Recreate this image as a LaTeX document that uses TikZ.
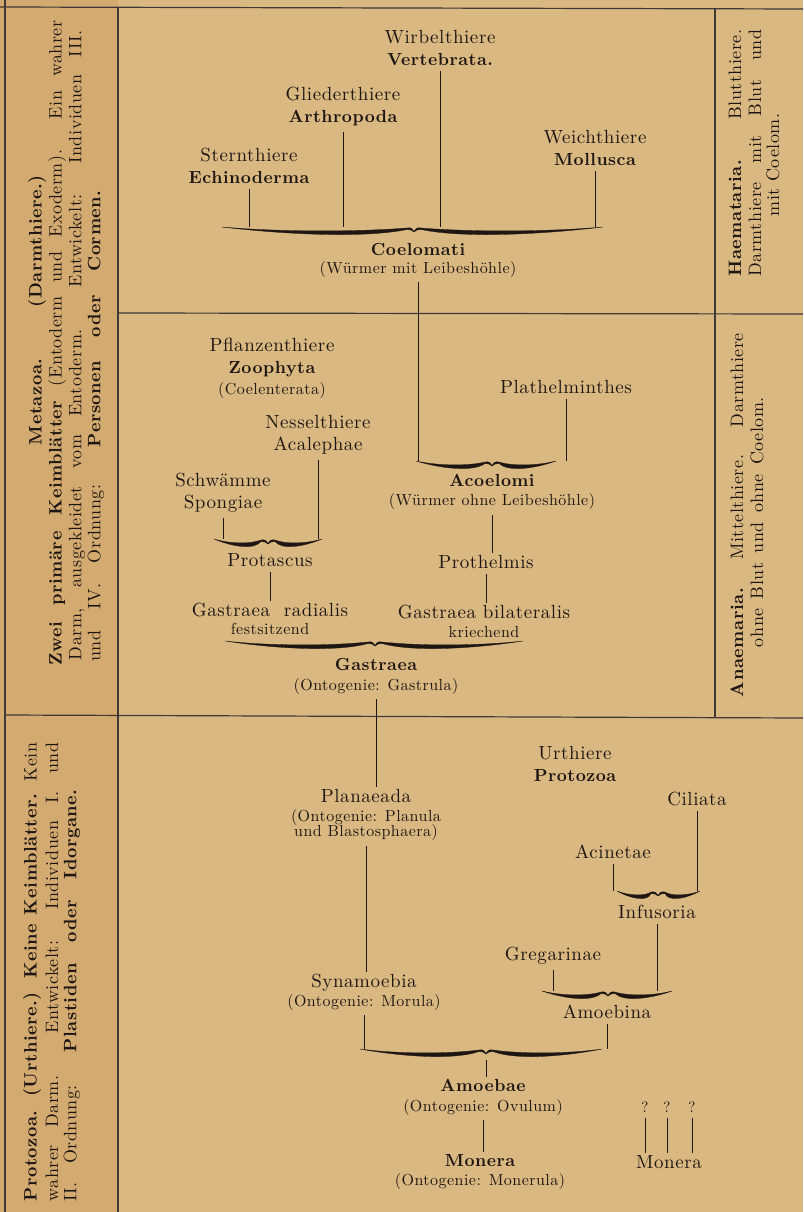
\documentclass[tikz,border=0pt]{standalone}
\usepackage{fontspec}
\setmainfont{lmroman10-regular.otf}[BoldFont=lmroman10-bold.otf, LetterSpace=3]

\definecolor{paper}{RGB}{217,184,130}
\definecolor{paperdark}{RGB}{211,170,112}
\definecolor{ink}{RGB}{30,22,18}

% bold Clarendon-like names and small sub-lines
\newcommand{\bn}[1]{{\fontsize{17.5}{22}\selectfont\bfseries #1}}
\newcommand{\sm}[1]{{\fontsize{16}{17}\selectfont #1}}

% old-style brace: name, left x, tip x, right x, level y
\newcommand{\oldbrace}[5]{%
  \coordinate (#1-l) at (#2,#5);
  \coordinate (#1-t) at (#3,{#5+5});
  \coordinate (#1-r) at (#4,#5);
  \filldraw[ink, line width=0.3pt] (#2,#5)
    .. controls ({#2+0.3*(#3-#2)},{#5+5}) and ({#2+0.7*(#3-#2)},{#5+5}) .. ({#3-7},{#5+1})
    .. controls ({#3-3},{#5}) and ({#3-1},{#5+2}) .. (#3,{#5+5})
    .. controls ({#3+1},{#5+2}) and ({#3+3},{#5}) .. ({#3+7},{#5+1})
    .. controls ({#4-0.7*(#4-#3)},{#5+5}) and ({#4-0.3*(#4-#3)},{#5+5}) .. (#4,#5)
    .. controls ({#4-0.35*(#4-#3)},{#5+8}) and ({#4-0.75*(#4-#3)},{#5+11}) .. ({#3+7},{#5+2.5})
    .. controls ({#3+4},{#5+2.5}) and ({#3+2},{#5+3}) .. (#3,{#5+5})
    .. controls ({#3-2},{#5+3}) and ({#3-4},{#5+2.5}) .. ({#3-7},{#5+2.5})
    .. controls ({#2+0.75*(#3-#2)},{#5+11}) and ({#2+0.35*(#3-#2)},{#5+8}) .. (#2,#5) -- cycle;
}

\begin{document}
\begin{tikzpicture}[
  x=1pt, y=-1pt,
  lbl/.style={align=center, text=ink, inner sep=2pt, font=\fontsize{19}{22}\selectfont},
  side/.style={rotate=90, text=ink, inner sep=0pt, font=\fontsize{18}{20}\selectfont},
  conn/.style={draw=ink, line width=0.8pt, shorten <=3pt},
  frame/.style={draw=ink!85, line width=1.2pt}
]
  \useasboundingbox (0,0) rectangle (803,1212);

  % --- Papier und Rahmen ---
  \fill[paper] (0,0) rectangle (803,1212);
  \fill[paperdark] (0,0) rectangle (118,1212);
  \draw[frame] (0,7) -- (803,9);
  \draw[frame] (5,0) -- (5,1212);
  \draw[frame] (118,7) -- (118,1212);
  \draw[frame] (715,8) -- (715,717);
  \draw[frame] (118,313) -- (803,314);
  \draw[frame] (5,715) -- (803,718);

  % --- Seitentexte links ---
  \node[side] (meta1) at (37,310) {\makebox[270pt][s]{\bfseries Metazoa. (Darmthiere.)}};
  \node[side] (meta2) at (57,343) {\makebox[645pt][s]{\textbf{Zwei primäre Keimblätter} (Entoderm und Exoderm). Ein wahrer}};
  \node[side] (meta3) at (77,345) {\makebox[630pt][s]{Darm, ausgekleidet vom Entoderm. Entwickelt: Individuen III.}};
  \node[side, anchor=west] (meta4) at (96,662) {\makebox[472pt][s]{und IV. Ordnung: \textbf{Personen oder Cormen.}}};

  \node[side] (proto1) at (32,972) {\makebox[459pt][s]{\textbf{Protozoa. (Urthiere.) Keine Keimblätter.} Kein}};
  \node[side] (proto2) at (52,972) {\makebox[459pt][s]{wahrer Darm. Entwickelt: Individuen I. und}};
  \node[side, anchor=west] (proto3) at (72,1202) {\makebox[413pt][s]{II. Ordnung: \textbf{Plastiden oder Idorgane.}}};

  % --- Seitentexte rechts ---
  \node[side] (haem1) at (735,153) {\makebox[247pt][s]{\textbf{Haemataria.} Blutthiere.}};
  \node[side] (haem2) at (755,153) {\makebox[247pt][s]{Darmthiere mit Blut und}};
  \node[side] (haem3) at (773,165) {mit Coelom.};
  \node[side] (anaem1) at (737,515) {\makebox[364pt][s]{\textbf{Anaemaria.} Mittelthiere. Darmthiere}};
  \node[side] (anaem2) at (757,522) {\makebox[250pt][s]{ohne Blut und ohne Coelom.}};

  % --- Coelomati ---
  \node[lbl] (wirbel) at (440,48) {Wirbelthiere\\\bn{Vertebrata.}};
  \node[lbl] (arthro) at (343,107) {Gliederthiere\\\bn{Arthropoda}};
  \node[lbl] (echino) at (249,166) {Sternthiere\\\bn{Echinoderma}};
  \node[lbl] (mollusca) at (595,148) {Weichthiere\\\bn{Mollusca}};
  \node[lbl] (coelomati) at (418,260) {\bn{Coelomati}\\[-4pt]\sm{(Würmer mit Leibeshöhle)}};

  \oldbrace{br1}{222}{414}{603}{227}
  \draw[conn] (echino.south) -- (echino.south |- br1-l);
  \draw[conn] (arthro.south) -- (arthro.south |- br1-l);
  \draw[conn] (wirbel.south) -- (wirbel.south |- br1-l);
  \draw[conn] (mollusca.south) -- (mollusca.south |- br1-l);

  % --- Acoelomi und Zoophyta ---
  \node[lbl] (zoophyta) at (272,368) {Pflanzenthiere\\\bn{Zoophyta}\\[-1pt]\sm{(Coelenterata)}};
  \node[lbl] (nessel) at (318,435) {Nesselthiere\\Acalephae};
  \node[lbl] (schwamm) at (223,493) {Schwämme\\Spongiae};
  \node[lbl] (plath) at (566,387) {Plathelminthes};
  \node[lbl] (acoelomi) at (492,492) {\bn{Acoelomi}\\[-3pt]\sm{(Würmer ohne Leibeshöhle)}};
  \node[lbl] (protascus) at (270,560) {Protascus};
  \node[lbl] (prothelmis) at (486,562) {Prothelmis};
  \node[lbl] (radialis) at (270,619) {Gastraea\ \ radialis\\[-4pt]\sm{festsitzend}};
  \node[lbl] (bilateralis) at (484,621) {Gastraea bilateralis\\[-3pt]\sm{kriechend}};
  \node[lbl] (gastraea) at (376,676) {\bn{Gastraea}\\[-2pt]\sm{(Ontogenie: Gastrula)}};

  \oldbrace{br2}{416}{492}{556}{461}
  \oldbrace{br3}{214}{268}{322}{539}
  \oldbrace{br4}{225}{375}{523}{641}
  \draw[conn] (coelomati.south) -- (coelomati.south |- br2-l);
  \draw[conn] (plath.south) -- (plath.south |- br2-l);
  \draw[conn] (schwamm.south) -- (schwamm.south |- br3-l);
  \draw[conn] (nessel.south) -- (nessel.south |- br3-l);
  \draw[conn] (protascus.south) -- (protascus.south |- radialis.north);
  \draw[conn] (acoelomi.south) -- (acoelomi.south |- prothelmis.north);
  \draw[conn] (prothelmis.south) -- (prothelmis.south |- bilateralis.north);

  % --- Protozoa ---
  \node[lbl] (urthiere) at (575,764) {Urthiere\\\bn{Protozoa}};
  \node[lbl] (planaeada) at (366,815) {Planaeada\\[-3pt]\sm{(Ontogenie: Planula}\\[-7pt]\sm{und Blastosphaera)}};
  \node[lbl] (synamoebia) at (364,992) {Synamoebia\\[-3pt]\sm{(Ontogenie: Morula)}};
  \node[lbl] (ciliata) at (697,799) {Ciliata};
  \node[lbl] (acinetae) at (613,852) {Acinetae};
  \node[lbl] (infusoria) at (657,912) {Infusoria};
  \node[lbl] (gregarinae) at (553,956) {Gregarinae};
  \node[lbl] (amoebina) at (607,1012) {Amoebina};
  \node[lbl] (amoebae) at (483,1097) {\bn{Amoebae}\\[-2pt]\sm{(Ontogenie: Ovulum)}};
  \node[lbl] (monera) at (480,1172) {\bn{Monera}\\[-3pt]\sm{(Ontogenie: Monerula)}};
  \node[lbl, font=\fontsize{15}{17}\selectfont] (q1) at (645,1107) {?};
  \node[lbl, font=\fontsize{15}{17}\selectfont] (q2) at (667,1107) {?};
  \node[lbl, font=\fontsize{15}{17}\selectfont] (q3) at (692,1107) {?};
  \node[lbl] (monera2) at (669,1162) {Monera};

  \oldbrace{br5}{617}{658}{700}{891}
  \oldbrace{br6}{542}{608}{672}{991}
  \oldbrace{br7}{360}{486}{602}{1049}
  \draw[conn] (gastraea.south) -- (gastraea.south |- planaeada.north);
  \draw[conn] (planaeada.south) -- (planaeada.south |- synamoebia.north);
  \draw[conn] (synamoebia.south) -- (synamoebia.south |- br7-l);
  \draw[conn] (acinetae.south) -- (acinetae.south |- br5-l);
  \draw[conn] (ciliata.south) -- (ciliata.south |- br5-l);
  \draw[conn] (infusoria.south) -- (infusoria.south |- br6-l);
  \draw[conn] (gregarinae.south) -- (gregarinae.south |- br6-l);
  \draw[conn] (amoebina.south) -- (amoebina.south |- br7-l);
  \draw[conn, shorten <=6pt] (br7-t) -- (br7-t |- amoebae.north);
  \draw[conn] (amoebae.south) -- (amoebae.south |- monera.north);
  \draw[conn] (q1.south) -- (q1.south |- monera2.north);
  \draw[conn] (q2.south) -- (q2.south |- monera2.north);
  \draw[conn] (q3.south) -- (q3.south |- monera2.north);
\end{tikzpicture}
\end{document}
